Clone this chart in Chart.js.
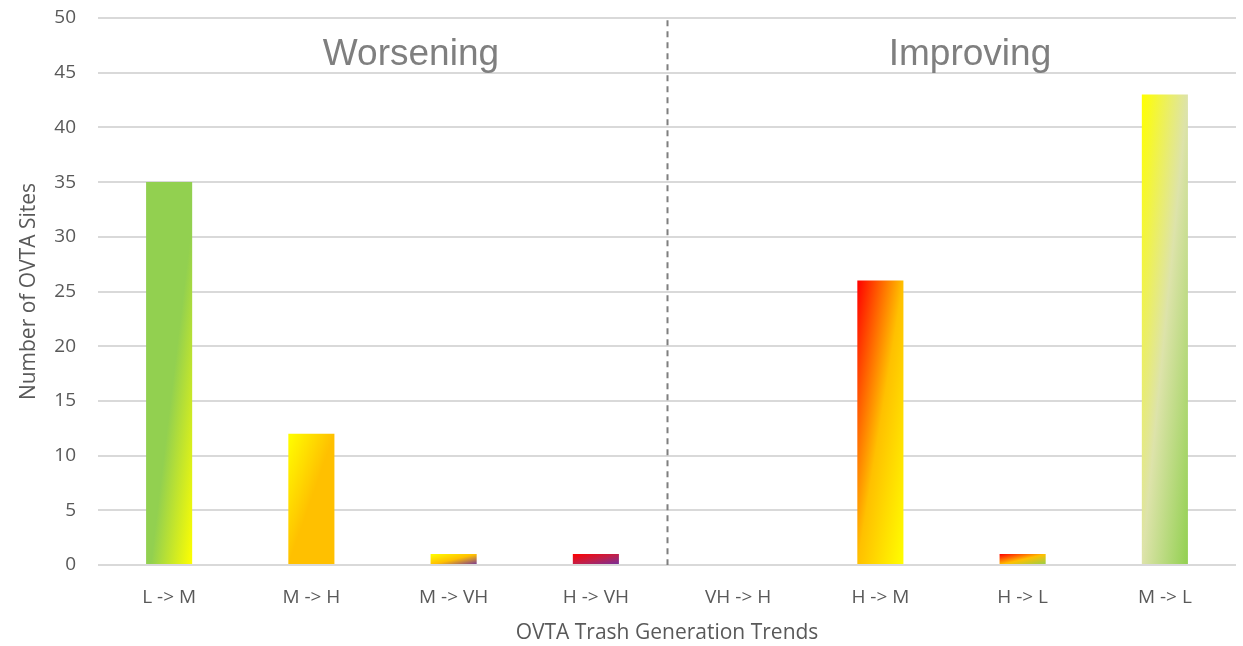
<!DOCTYPE html>
<html>
<head>
<meta charset="utf-8">
<script src="https://cdn.jsdelivr.net/npm/chart.js@4/dist/chart.umd.min.js"></script>
<style>
html,body{margin:0;padding:0;background:#fff;}
#wrap{width:1243px;height:646px;position:relative;}
</style>
</head>
<body>
<div id="wrap"><canvas id="c" width="1243" height="646"></canvas></div>
<script>
// ---- data ----
const categories = ['L -> M', 'M -> H', 'M -> VH', 'H -> VH', 'VH -> H', 'H -> M', 'H -> L', 'M -> L'];
const siteCounts = [35, 12, 1, 1, 0, 26, 1, 43];
const yTickValues = [0, 5, 10, 15, 20, 25, 30, 35, 40, 45, 50];
const groupLabels = ['Worsening', 'Improving'];
const groupLabelPositions = [1.7, 5.63];   // in category units
const dividerPosition = 3.5;                // between H -> VH and VH -> H

// gradient colour stops per bar (top-left -> bottom-right)
const barGradients = [
  [[0, '#92D050'], [0.55, '#92D050'], [1, '#FFFF00']],
  [[0, '#FFFF00'], [0.5, '#FFC000'], [1, '#FFC000']],
  [[0, '#FFFF00'], [0.5, '#FFC000'], [1, '#7030A0']],
  [[0, '#FF0000'], [0.5, '#C0204A'], [1, '#7030A0']],
  [[0, '#FF0000'], [0.5, '#FFC000'], [1, '#FFFF00']],
  [[0, '#FF0000'], [0.5, '#FFC000'], [1, '#FFFF00']],
  [[0, '#FF0000'], [0.5, '#FFC000'], [1, '#92D050']],
  [[0, '#FFFF00'], [0.5, '#DDE3AA'], [1, '#92D050']]
];

const CAT_PCT = 0.324;

function barFill(ctx) {
  const chart = ctx.chart;
  const xs = chart.scales.x, ys = chart.scales.y;
  if (!xs || !ys || ctx.type !== 'data') return '#92D050';
  const i = ctx.dataIndex;
  const v = siteCounts[i];
  const cx = xs.getPixelForValue(i);
  const catW = (xs.right - xs.left) / categories.length;
  const w = catW * CAT_PCT;
  const top = ys.getPixelForValue(v);
  const bottom = ys.getPixelForValue(0);
  const h = Math.max(bottom - top, 1);
  const x0 = cx - w / 2, y0 = top;
  const k = 2 * w * h / (h * h + w * w);
  const vals = [x0, y0, w, h, k];
  if (!vals.every(Number.isFinite) || w <= 0) return barGradients[i][1][1];
  const g = chart.ctx.createLinearGradient(x0, y0, x0 + h * k, y0 + w * k);
  barGradients[i].forEach(s => g.addColorStop(s[0], s[1]));
  return g;
}

const overlay = {
  id: 'overlay',
  afterDatasetsDraw(chart) {
    const {ctx, scales: {x, y}} = chart;
    ctx.save();
    const dx = Math.round(x.getPixelForValue(dividerPosition)) + 0.5;
    ctx.strokeStyle = '#7F7F7F';
    ctx.lineWidth = 2;
    ctx.setLineDash([6, 5]);
    ctx.beginPath();
    ctx.moveTo(dx, y.getPixelForValue(49.8));
    ctx.lineTo(dx, y.getPixelForValue(0));
    ctx.stroke();
    ctx.setLineDash([]);
    ctx.fillStyle = '#7F7F7F';
    ctx.font = '37px "Liberation Sans", Arial, sans-serif';
    ctx.textAlign = 'center';
    ctx.textBaseline = 'middle';
    groupLabels.forEach((t, j) => {
      ctx.fillText(t, x.getPixelForValue(groupLabelPositions[j]), y.getPixelForValue(46.6));
    });
    ctx.restore();
  }
};

new Chart(document.getElementById('c'), {
  type: 'bar',
  data: {
    labels: categories,
    datasets: [{
      data: siteCounts,
      backgroundColor: barFill,
      borderWidth: 0,
      barPercentage: 1,
      categoryPercentage: CAT_PCT
    }]
  },
  options: {
    responsive: false,
    animation: false,
    devicePixelRatio: 1,
    layout: {padding: {top: 18, right: 7, left: 16, bottom: 0}},
    plugins: {legend: {display: false}, tooltip: {enabled: false}},
    scales: {
      x: {
        grid: {display: false, drawTicks: false},
        border: {display: false},
        ticks: {color: '#595959', font: {family: 'Open Sans', size: 19}, padding: 21, maxRotation: 0},
        title: {display: true, text: 'OVTA Trash Generation Trends', color: '#595959',
                font: {family: 'Open Sans', size: 21}, padding: {top: 8, bottom: 0}},
        afterFit(s) { s.height = 81; }
      },
      y: {
        min: 0, max: 50,
        afterBuildTicks(s) { s.ticks = yTickValues.map(v => ({value: v})); },
        grid: {color: '#D9D9D9', lineWidth: 2, drawTicks: true, tickLength: 22, tickColor: 'rgba(0,0,0,0)'},
        border: {display: false},
        ticks: {color: '#595959', font: {family: 'Open Sans', size: 19}, padding: 0},
        title: {display: true, text: 'Number of OVTA Sites', color: '#595959',
                font: {family: 'Open Sans', size: 21}, padding: {top: 0, bottom: 6}},
        afterFit(s) { s.width = 82; }
      }
    }
  },
  plugins: [overlay]
});
</script>
</body>
</html>
